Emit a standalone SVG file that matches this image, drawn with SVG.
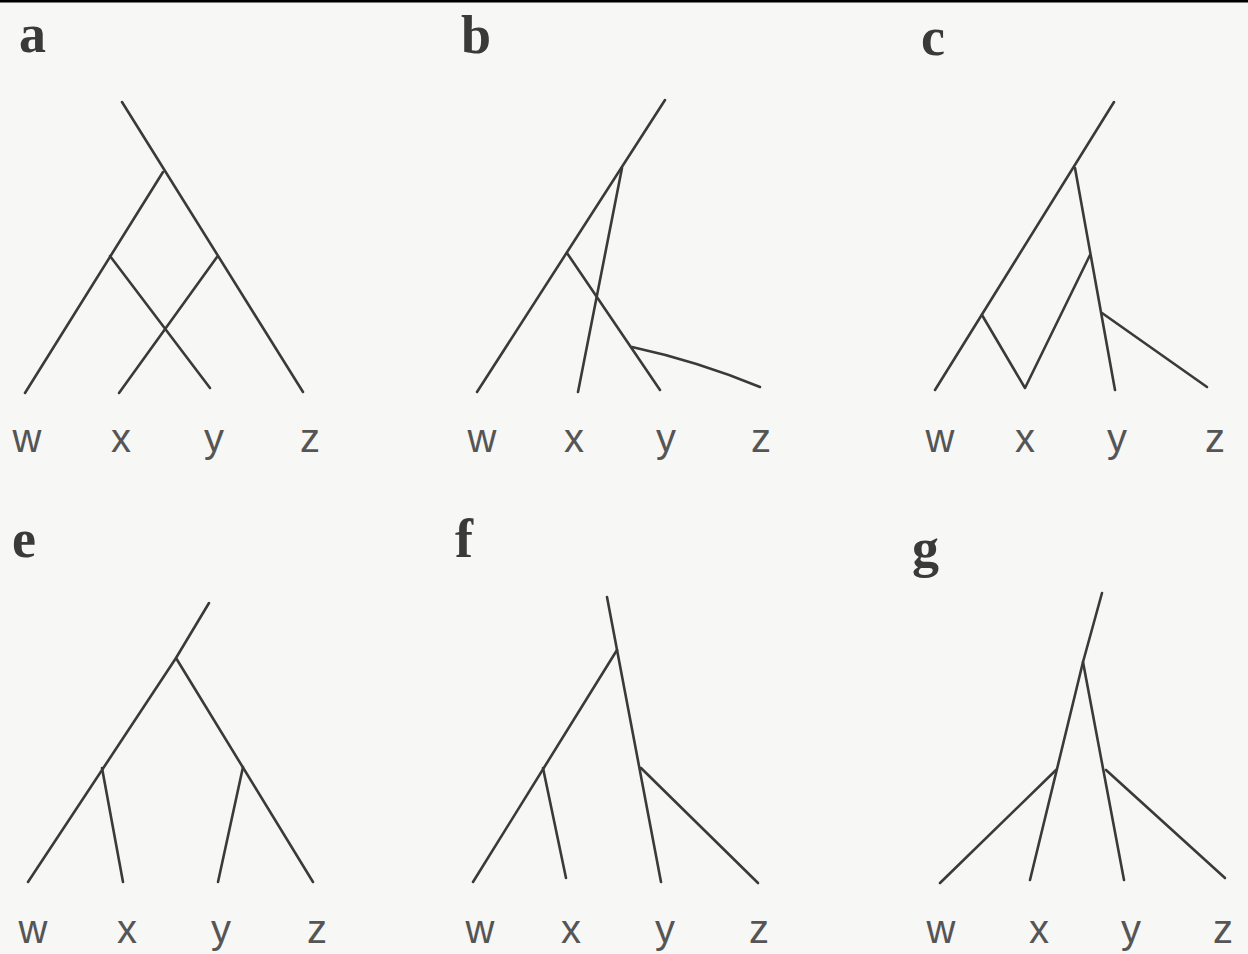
<svg xmlns="http://www.w3.org/2000/svg" width="1248" height="954" viewBox="0 0 1248 954">
<style>
.br{fill:none;stroke:#3a3a3a;stroke-width:2.6;stroke-linecap:round;stroke-linejoin:round}
.pl{font-family:"Liberation Serif",serif;font-weight:bold;font-size:54px;fill:#3a3a3a}
.tl{font-family:"Liberation Sans",sans-serif;font-size:40px;fill:#555;text-anchor:middle}
</style>
<rect width="1248" height="954" fill="#f7f7f6"/>
<rect width="1248" height="2.5" fill="#000"/>
<g id="panel-a">
<text class="pl" x="19" y="52">a</text>
<text class="tl" x="27" y="452">w</text>
<text class="tl" x="121" y="452">x</text>
<text class="tl" x="214" y="452">y</text>
<text class="tl" x="310" y="452">z</text>
</g>
<g id="panel-b">
<text class="pl" x="461" y="53">b</text>
<text class="tl" x="482" y="452">w</text>
<text class="tl" x="574" y="452">x</text>
<text class="tl" x="666" y="452">y</text>
<text class="tl" x="761" y="452">z</text>
</g>
<g id="panel-c">
<text class="pl" x="921" y="55">c</text>
<text class="tl" x="940" y="452">w</text>
<text class="tl" x="1025" y="452">x</text>
<text class="tl" x="1117" y="452">y</text>
<text class="tl" x="1215" y="452">z</text>
</g>
<g id="panel-e">
<text class="pl" x="12" y="557">e</text>
<text class="tl" x="33" y="943">w</text>
<text class="tl" x="127" y="943">x</text>
<text class="tl" x="221" y="943">y</text>
<text class="tl" x="317" y="943">z</text>
</g>
<g id="panel-f">
<text class="pl" x="455" y="557">f</text>
<text class="tl" x="480" y="943">w</text>
<text class="tl" x="571" y="943">x</text>
<text class="tl" x="665" y="943">y</text>
<text class="tl" x="759" y="943">z</text>
</g>
<g id="panel-g">
<text class="pl" x="912" y="566">g</text>
<text class="tl" x="941" y="943">w</text>
<text class="tl" x="1039" y="943">x</text>
<text class="tl" x="1131" y="943">y</text>
<text class="tl" x="1223" y="943">z</text>
</g>
<g id="connectors">
<!-- a -->
<path class="br" d="M122 102 L303 392"/>
<path class="br" d="M163 172 L25 393"/>
<path class="br" d="M110 256 L210 388"/>
<path class="br" d="M217 257 L119 393"/>
<!-- b -->
<path class="br" d="M665 100 L477 392"/>
<path class="br" d="M622 168 L578 392"/>
<path class="br" d="M567 253 L660 390"/>
<path class="br" d="M632 347 Q697 361 760 387"/>
<!-- c -->
<path class="br" d="M1114 102 L935 390"/>
<path class="br" d="M982 315 L1025 388 L1090 255"/>
<path class="br" d="M1075 168 L1115 390"/>
<path class="br" d="M1102 313 L1207 387"/>
<!-- e -->
<path class="br" d="M209 603 L176 658 L28 882"/>
<path class="br" d="M102 768 L123 882"/>
<path class="br" d="M176 658 L313 882"/>
<path class="br" d="M243 767 L218 882"/>
<!-- f -->
<path class="br" d="M607 597 L661 882"/>
<path class="br" d="M617 650 L473 882"/>
<path class="br" d="M543 768 L566 878"/>
<path class="br" d="M641 768 L758 883"/>
<!-- g -->
<path class="br" d="M1102 593 L1083 662 L1030 880"/>
<path class="br" d="M1056 770 L940 883"/>
<path class="br" d="M1083 662 L1124 880"/>
<path class="br" d="M1106 770 L1225 878"/>
</g>
</svg>
